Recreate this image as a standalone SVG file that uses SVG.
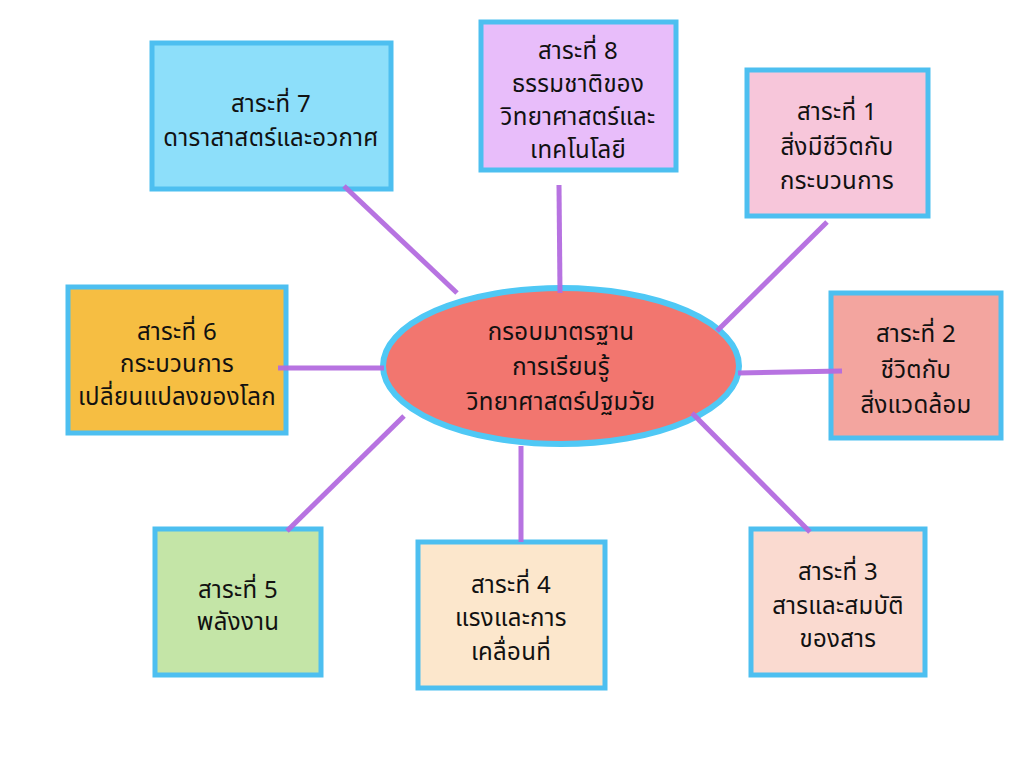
<svg xmlns="http://www.w3.org/2000/svg" width="1024" height="768" viewBox="0 0 1024 768">
<style>
.box{stroke:#4dbff0;stroke-width:5}
.t{font-family:"Noto Sans","Noto Sans Thai","DejaVu Sans",sans-serif;font-size:24px;letter-spacing:0.3px;fill:#111;text-anchor:middle}
.ln{stroke:#b46ce0;stroke-width:5;stroke-linecap:butt;opacity:0.95}
</style>
<rect width="1024" height="768" fill="#fff"/>
<g id="center">
<ellipse cx="561" cy="366" rx="178" ry="78" fill="#f2766f" stroke="#4fc8f5" stroke-width="6"/>
<text class="t" x="561" y="340">กรอบมาตรฐาน</text>
<text class="t" x="561" y="375">การเรียนรู้</text>
<text class="t" x="561" y="410">วิทยาศาสตร์ปฐมวัย</text>
</g>
<g id="n7">
<rect class="box" x="152" y="43" width="239" height="146" fill="#8ddffa"/>
<text class="t" x="271" y="112">สาระที่ 7</text>
<text class="t" x="271" y="146">ดาราสาสตร์และอวกาศ</text>
</g>
<g id="n8">
<rect class="box" x="481" y="22" width="195" height="148" fill="#e8bdfa"/>
<text class="t" x="578" y="59">สาระที่ 8</text>
<text class="t" x="578" y="92">ธรรมชาติของ</text>
<text class="t" x="578" y="125">วิทยาศาสตร์และ</text>
<text class="t" x="578" y="158">เทคโนโลยี</text>
</g>
<g id="n1">
<rect class="box" x="747" y="70" width="181" height="146" fill="#f7c6da"/>
<text class="t" x="837" y="120">สาระที่ 1</text>
<text class="t" x="837" y="155">สิ่งมีชีวิตกับ</text>
<text class="t" x="837" y="189">กระบวนการ</text>
</g>
<g id="n6">
<rect class="box" x="68" y="287" width="218" height="146" fill="#f6be42"/>
<text class="t" x="177" y="340">สาระที่ 6</text>
<text class="t" x="177" y="372">กระบวนการ</text>
<text class="t" x="177" y="405">เปลี่ยนแปลงของโลก</text>
</g>
<g id="n2">
<rect class="box" x="831" y="293" width="170" height="145" fill="#f3a59f"/>
<text class="t" x="916" y="342">สาระที่ 2</text>
<text class="t" x="916" y="378">ชีวิตกับ</text>
<text class="t" x="916" y="413">สิ่งแวดล้อม</text>
</g>
<g id="n5">
<rect class="box" x="155" y="529" width="166" height="146" fill="#c4e5a7"/>
<text class="t" x="238" y="598">สาระที่ 5</text>
<text class="t" x="238" y="630">พลังงาน</text>
</g>
<g id="n4">
<rect class="box" x="418" y="542" width="187" height="146" fill="#fce7cc"/>
<text class="t" x="511" y="593">สาระที่ 4</text>
<text class="t" x="511" y="626">แรงและการ</text>
<text class="t" x="511" y="660">เคลื่อนที่</text>
</g>
<g id="n3">
<rect class="box" x="751" y="529" width="174" height="146" fill="#fadad0"/>
<text class="t" x="838" y="580">สาระที่ 3</text>
<text class="t" x="838" y="614">สารและสมบัติ</text>
<text class="t" x="838" y="647">ของสาร</text>
</g>
<g id="connectors">
<line class="ln" x1="344" y1="186" x2="457" y2="293"/>
<line class="ln" x1="559" y1="185" x2="560" y2="293"/>
<line class="ln" x1="827" y1="222" x2="717" y2="331"/>
<line class="ln" x1="278" y1="368" x2="384" y2="368"/>
<line class="ln" x1="738" y1="373" x2="842" y2="371"/>
<line class="ln" x1="287" y1="531" x2="404" y2="416"/>
<line class="ln" x1="521" y1="446" x2="521" y2="542"/>
<line class="ln" x1="692" y1="413" x2="810" y2="532"/>
</g>
</svg>
